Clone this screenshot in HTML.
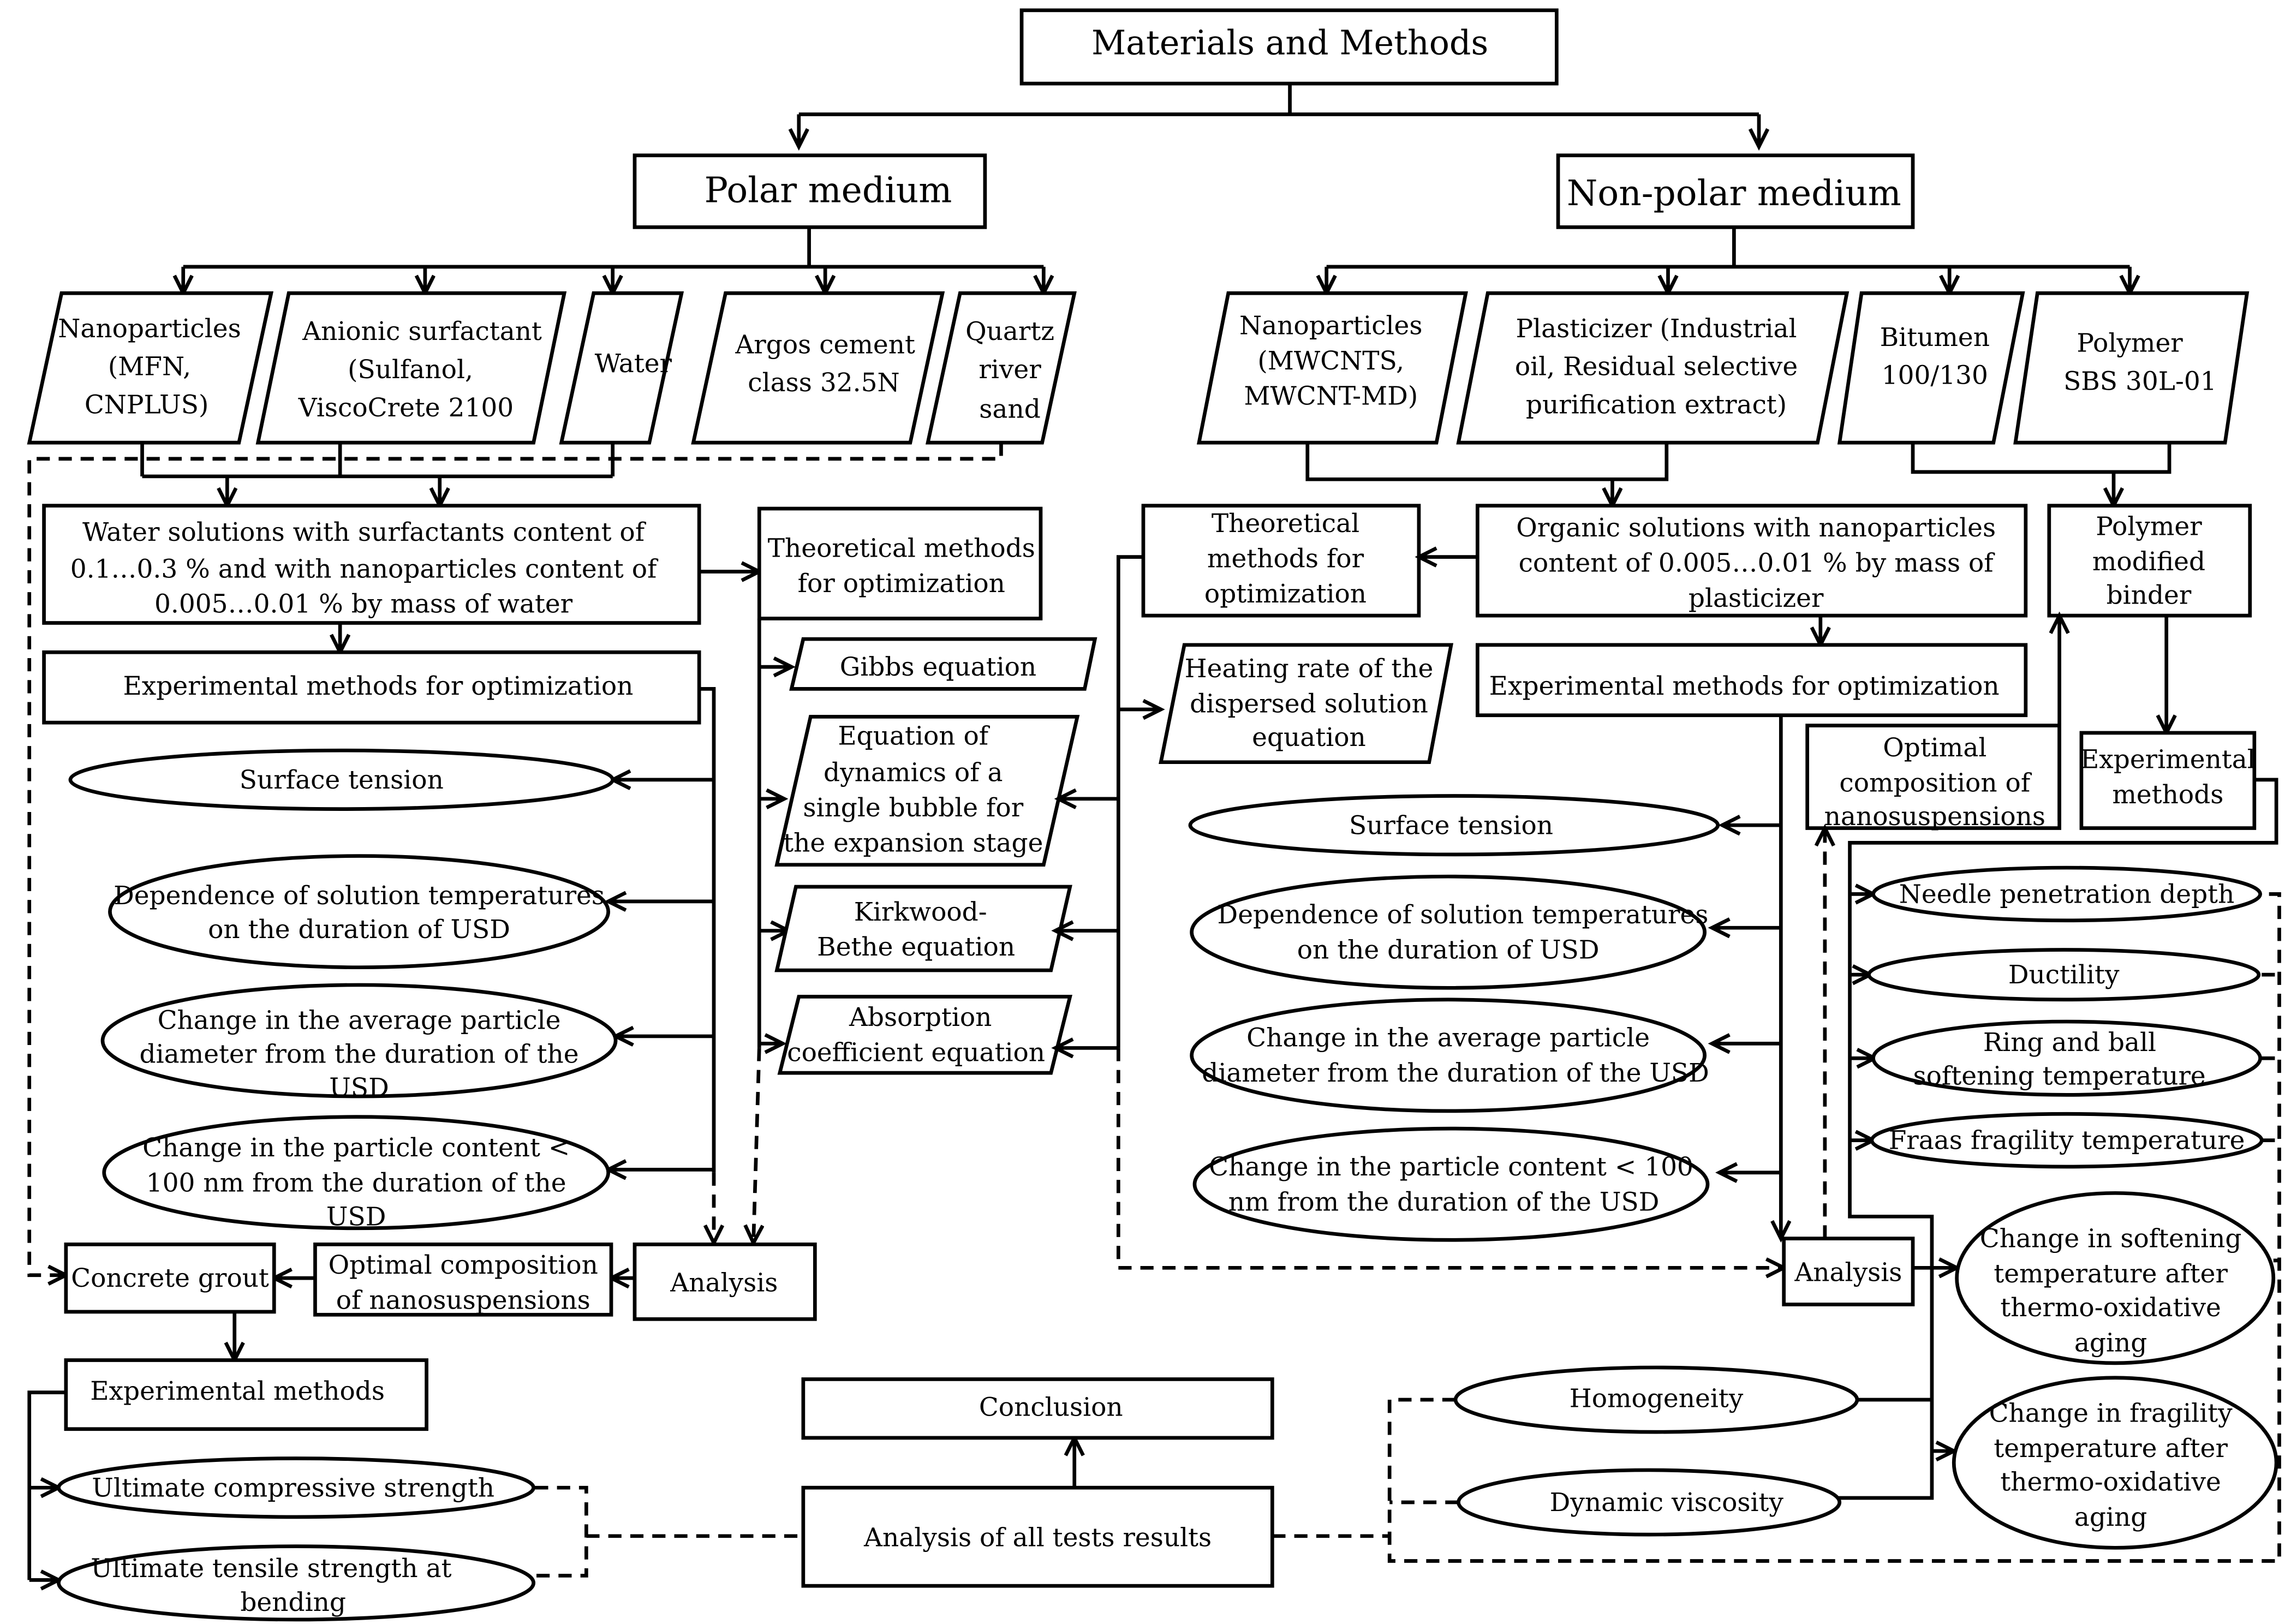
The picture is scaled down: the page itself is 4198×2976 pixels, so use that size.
<!DOCTYPE html>
<html><head><meta charset="utf-8"><style>
html,body{margin:0;padding:0;background:#fff}
svg{display:block}
.s{fill:#fff;stroke:#000;stroke-width:2.5}
.l{fill:none;stroke:#000;stroke-width:2.5}
.d{stroke-dasharray:9 6}
text{font-family:"DejaVu Serif","Liberation Serif",serif;font-size:17.5px;text-anchor:middle;fill:#000}
</style></head><body>
<svg width="4198" height="2976" viewBox="0 0 1563 1108" xmlns="http://www.w3.org/2000/svg">
<defs><marker id="a" markerUnits="userSpaceOnUse" markerWidth="16" markerHeight="16" refX="13" refY="7" orient="auto"><path d="M1,1 L13,7 L1,13" fill="none" stroke="#000" stroke-width="2.5"/></marker></defs>

<rect class="s" x="697" y="7" width="365" height="50"/>
<text x="880" y="37" style="font-size:23px">Materials and Methods</text>
<path class="l" d="M880,57V78M545,78H1200"/>
<path class="l" d="M545,78V100" marker-end="url(#a)"/>
<path class="l" d="M1200,78V100" marker-end="url(#a)"/>
<rect class="s" x="433" y="106" width="239" height="49"/>
<text x="565" y="138" style="font-size:24px">Polar medium</text>
<rect class="s" x="1063" y="106" width="242" height="49"/>
<text x="1183" y="140" style="font-size:24px">Non-polar medium</text>

<path class="l" d="M552,155V182M125,182H712"/>
<path class="l" d="M125,182V200" marker-end="url(#a)"/>
<path class="l" d="M290,182V200" marker-end="url(#a)"/>
<path class="l" d="M418,182V200" marker-end="url(#a)"/>
<path class="l" d="M563,182V200" marker-end="url(#a)"/>
<path class="l" d="M712,182V200" marker-end="url(#a)"/>
<polygon class="s" points="42,200 185,200 163,302 20,302"/>
<text x="102" y="230">Nanoparticles</text><text x="102" y="256">(MFN,</text><text x="100" y="282">CNPLUS)</text>
<polygon class="s" points="197,200 385,200 364,302 176,302"/>
<text x="288" y="232">Anionic surfactant</text><text x="280" y="258">(Sulfanol,</text><text x="277" y="284">ViscoCrete 2100</text>
<polygon class="s" points="405,200 465,200 443,302 383,302"/>
<text x="432" y="254">Water</text>
<polygon class="s" points="495,200 643,200 621,302 473,302"/>
<text x="563" y="241">Argos cement</text><text x="562" y="267">class 32.5N</text>
<polygon class="s" points="655,200 733,200 711,302 633,302"/>
<text x="689" y="232">Quartz</text><text x="689" y="258">river</text><text x="689" y="285">sand</text>
<path class="l" d="M97,302V325M232,302V325M418,302V325M97,325H418"/>
<path class="l" d="M155,325V345" marker-end="url(#a)"/>
<path class="l" d="M300,325V345" marker-end="url(#a)"/>
<path class="l d" d="M683,302V313H20V870H45" marker-end="url(#a)"/>

<rect class="s" x="30" y="345" width="447" height="80"/>
<text x="248" y="369">Water solutions with surfactants content of</text>
<text x="248" y="394">0.1…0.3 % and with nanoparticles content of</text>
<text x="248" y="418">0.005…0.01 % by mass of water</text>
<path class="l" d="M477,390H518" marker-end="url(#a)"/>
<rect class="s" x="518" y="347" width="192" height="75"/>
<text x="615" y="380">Theoretical methods</text><text x="615" y="404">for optimization</text>
<path class="l" d="M232,425V445" marker-end="url(#a)"/>
<rect class="s" x="30" y="445" width="447" height="48"/>
<text x="258" y="474">Experimental methods for optimization</text>
<path class="l" d="M477,470H487V800"/>
<path class="l" d="M487,532H418" marker-end="url(#a)"/>
<path class="l" d="M487,615H415" marker-end="url(#a)"/>
<path class="l" d="M487,707H420" marker-end="url(#a)"/>
<path class="l" d="M487,798H415" marker-end="url(#a)"/>
<path class="l d" d="M487,800V848" marker-end="url(#a)"/>
<ellipse class="s" cx="233" cy="532" rx="185" ry="20"/><text x="233" y="538">Surface tension</text>
<ellipse class="s" cx="245" cy="622" rx="170" ry="38"/><text x="245" y="617">Dependence of solution temperatures</text><text x="245" y="640">on the duration of USD</text>
<ellipse class="s" cx="245" cy="710" rx="175" ry="38"/><text x="245" y="702">Change in the average particle</text><text x="245" y="725">diameter from the duration of the</text><text x="245" y="748">USD</text>
<ellipse class="s" cx="243" cy="800" rx="172" ry="38"/><text x="243" y="789">Change in the particle content &lt;</text><text x="243" y="813">100 nm from the duration of the</text><text x="243" y="836">USD</text>

<path class="l" d="M518,422V715"/>
<path class="l" d="M518,455H540" marker-end="url(#a)"/>
<path class="l" d="M518,545H535" marker-end="url(#a)"/>
<path class="l" d="M518,635H538" marker-end="url(#a)"/>
<path class="l" d="M518,712H534" marker-end="url(#a)"/>
<path class="l d" d="M518,715L514,848" marker-end="url(#a)"/>
<polygon class="s" points="548,436 747,436 740,470 540,470"/><text x="640" y="461">Gibbs equation</text>
<polygon class="s" points="553,489 735,489 712,590 530,590"/>
<text x="623" y="508">Equation of</text><text x="623" y="533">dynamics of a</text><text x="623" y="557">single bubble for</text><text x="623" y="581">the expansion stage</text>
<polygon class="s" points="543,605 730,605 717,662 530,662"/><text x="628" y="628">Kirkwood-</text><text x="625" y="652">Bethe equation</text>
<polygon class="s" points="545,680 730,680 717,732 532,732"/><text x="628" y="700">Absorption</text><text x="625" y="724">coefficient equation</text>

<path class="l" d="M780,380H763V715"/>
<path class="l" d="M763,545H722" marker-end="url(#a)"/>
<path class="l" d="M763,635H720" marker-end="url(#a)"/>
<path class="l" d="M763,715H720" marker-end="url(#a)"/>
<path class="l" d="M763,484H792" marker-end="url(#a)"/>
<path class="l d" d="M763,715V865H1217" marker-end="url(#a)"/>
<polygon class="s" points="808,440 990,440 975,520 792,520"/>
<text x="893" y="462">Heating rate of the</text><text x="893" y="486">dispersed solution</text><text x="893" y="509">equation</text>

<rect class="s" x="433" y="849" width="123" height="51"/><text x="494" y="881">Analysis</text>
<path class="l" d="M433,872H417" marker-end="url(#a)"/>
<rect class="s" x="215" y="849" width="202" height="48"/><text x="316" y="869">Optimal composition</text><text x="316" y="893">of nanosuspensions</text>
<path class="l" d="M215,872H187" marker-end="url(#a)"/>
<rect class="s" x="45" y="849" width="142" height="46"/><text x="116" y="878">Concrete grout</text>
<path class="l" d="M160,895V928" marker-end="url(#a)"/>
<rect class="s" x="45" y="928" width="246" height="47"/><text x="162" y="955">Experimental methods</text>
<path class="l" d="M45,950H20V1078"/>
<path class="l" d="M20,1015H40" marker-end="url(#a)"/>
<path class="l" d="M20,1078H40" marker-end="url(#a)"/>
<ellipse class="s" cx="202" cy="1015" rx="162" ry="20"/><text x="200" y="1021">Ultimate compressive strength</text>
<ellipse class="s" cx="202" cy="1080" rx="162" ry="25"/><text x="185" y="1076">Ultimate tensile strength at</text><text x="200" y="1099">bending</text>
<path class="l d" d="M365,1015H400V1075H365M400,1048H548"/>
<rect class="s" x="548" y="1015" width="320" height="67"/><text x="708" y="1055">Analysis of all tests results</text>
<path class="l" d="M733,1015V981" marker-end="url(#a)"/>
<rect class="s" x="548" y="941" width="320" height="40"/><text x="717" y="966">Conclusion</text>
<path class="l d" d="M868,1048H948M993,955H948V1065H1555V610H1540M995,1025H948M1543,665H1555M1543,722H1555M1543,778H1555M1551,860H1555M1553,1000H1555"/>

<path class="l" d="M1183,155V182M905,182H1453"/>
<path class="l" d="M905,182V200" marker-end="url(#a)"/>
<path class="l" d="M1138,182V200" marker-end="url(#a)"/>
<path class="l" d="M1330,182V200" marker-end="url(#a)"/>
<path class="l" d="M1453,182V200" marker-end="url(#a)"/>
<polygon class="s" points="838,200 1000,200 980,302 818,302"/>
<text x="908" y="228">Nanoparticles</text><text x="908" y="252">(MWCNTS,</text><text x="908" y="276">MWCNT-MD)</text>
<polygon class="s" points="1015,200 1260,200 1240,302 995,302"/>
<text x="1130" y="230">Plasticizer (Industrial</text><text x="1130" y="256">oil, Residual selective</text><text x="1130" y="282">purification extract)</text>
<polygon class="s" points="1270,200 1380,200 1360,302 1255,302"/>
<text x="1320" y="236">Bitumen</text><text x="1320" y="262">100/130</text>
<polygon class="s" points="1390,200 1533,200 1518,302 1375,302"/>
<text x="1453" y="240">Polymer</text><text x="1460" y="266">SBS 30L-01</text>
<path class="l" d="M892,302V327H1137V302M1305,302V322H1480V302"/>
<path class="l" d="M1100,327V345" marker-end="url(#a)"/>
<path class="l" d="M1442,322V345" marker-end="url(#a)"/>
<rect class="s" x="780" y="345" width="188" height="75"/>
<text x="877" y="363">Theoretical</text><text x="877" y="387">methods for</text><text x="877" y="411">optimization</text>
<path class="l" d="M1008,380H968" marker-end="url(#a)"/>
<rect class="s" x="1008" y="345" width="374" height="75"/>
<text x="1198" y="366">Organic solutions with nanoparticles</text><text x="1198" y="390">content of 0.005…0.01 % by mass of</text><text x="1198" y="414">plasticizer</text>
<path class="l" d="M1242,420V440" marker-end="url(#a)"/>
<rect class="s" x="1008" y="440" width="374" height="48"/><text x="1190" y="474">Experimental methods for optimization</text>
<rect class="s" x="1398" y="345" width="137" height="75"/>
<text x="1466" y="365">Polymer</text><text x="1466" y="389">modified</text><text x="1466" y="412">binder</text>
<path class="l" d="M1478,420V500" marker-end="url(#a)"/>
<rect class="s" x="1420" y="500" width="118" height="65"/><text x="1479" y="524">Experimental</text><text x="1479" y="548">methods</text>
<rect class="s" x="1233" y="495" width="172" height="70"/>
<text x="1320" y="516">Optimal</text><text x="1320" y="540">composition of</text><text x="1320" y="563">nanosuspensions</text>
<path class="l" d="M1405,560V420" marker-end="url(#a)"/>
<path class="l" d="M1215,488V845" marker-end="url(#a)"/>
<path class="l" d="M1215,563H1175" marker-end="url(#a)"/>
<path class="l" d="M1215,633H1168" marker-end="url(#a)"/>
<path class="l" d="M1215,712H1168" marker-end="url(#a)"/>
<path class="l" d="M1215,800H1173" marker-end="url(#a)"/>
<ellipse class="s" cx="992" cy="563" rx="180" ry="20"/><text x="990" y="569">Surface tension</text>
<ellipse class="s" cx="988" cy="636" rx="175" ry="38"/><text x="998" y="630">Dependence of solution temperatures</text><text x="988" y="654">on the duration of USD</text>
<ellipse class="s" cx="988" cy="720" rx="175" ry="38"/><text x="988" y="714">Change in the average particle</text><text x="993" y="738">diameter from the duration of the USD</text>
<ellipse class="s" cx="990" cy="808" rx="175" ry="38"/><text x="990" y="802">Change in the particle content &lt; 100</text><text x="985" y="826">nm from the duration of the USD</text>
<rect class="s" x="1217" y="845" width="88" height="45"/><text x="1261" y="874">Analysis</text>
<path class="l d" d="M1245,845V565" marker-end="url(#a)"/>
<path class="l" d="M1538,532H1553V575H1262V830H1318V1022H1230" marker-end="url(#a)"/>
<path class="l" d="M1262,610H1278" marker-end="url(#a)"/>
<path class="l" d="M1262,665H1276" marker-end="url(#a)"/>
<path class="l" d="M1262,722H1279" marker-end="url(#a)"/>
<path class="l" d="M1262,778H1278" marker-end="url(#a)"/>
<path class="l" d="M1305,865H1335" marker-end="url(#a)"/>
<path class="l" d="M1318,990H1333" marker-end="url(#a)"/>
<path class="l" d="M1318,955H1228" marker-end="url(#a)"/>
<ellipse class="s" cx="1410" cy="610" rx="132" ry="18"/><text x="1410" y="616">Needle penetration depth</text>
<ellipse class="s" cx="1408" cy="665" rx="133" ry="17"/><text x="1408" y="671">Ductility</text>
<ellipse class="s" cx="1410" cy="722" rx="132" ry="25"/><text x="1412" y="717">Ring and ball</text><text x="1405" y="740">softening temperature</text>
<ellipse class="s" cx="1410" cy="778" rx="133" ry="18"/><text x="1410" y="784">Fraas fragility temperature</text>
<ellipse class="s" cx="1443" cy="872" rx="108" ry="58"/>
<text x="1440" y="851">Change in softening</text><text x="1440" y="875">temperature after</text><text x="1440" y="898">thermo-oxidative</text><text x="1440" y="922">aging</text>
<ellipse class="s" cx="1443" cy="998" rx="110" ry="58"/>
<text x="1440" y="970">Change in fragility</text><text x="1440" y="994">temperature after</text><text x="1440" y="1017">thermo-oxidative</text><text x="1440" y="1041">aging</text>
<ellipse class="s" cx="1130" cy="955" rx="137" ry="22"/><text x="1130" y="960">Homogeneity</text>
<ellipse class="s" cx="1125" cy="1025" rx="130" ry="22"/><text x="1137" y="1031">Dynamic viscosity</text>
</svg>
</body></html>
